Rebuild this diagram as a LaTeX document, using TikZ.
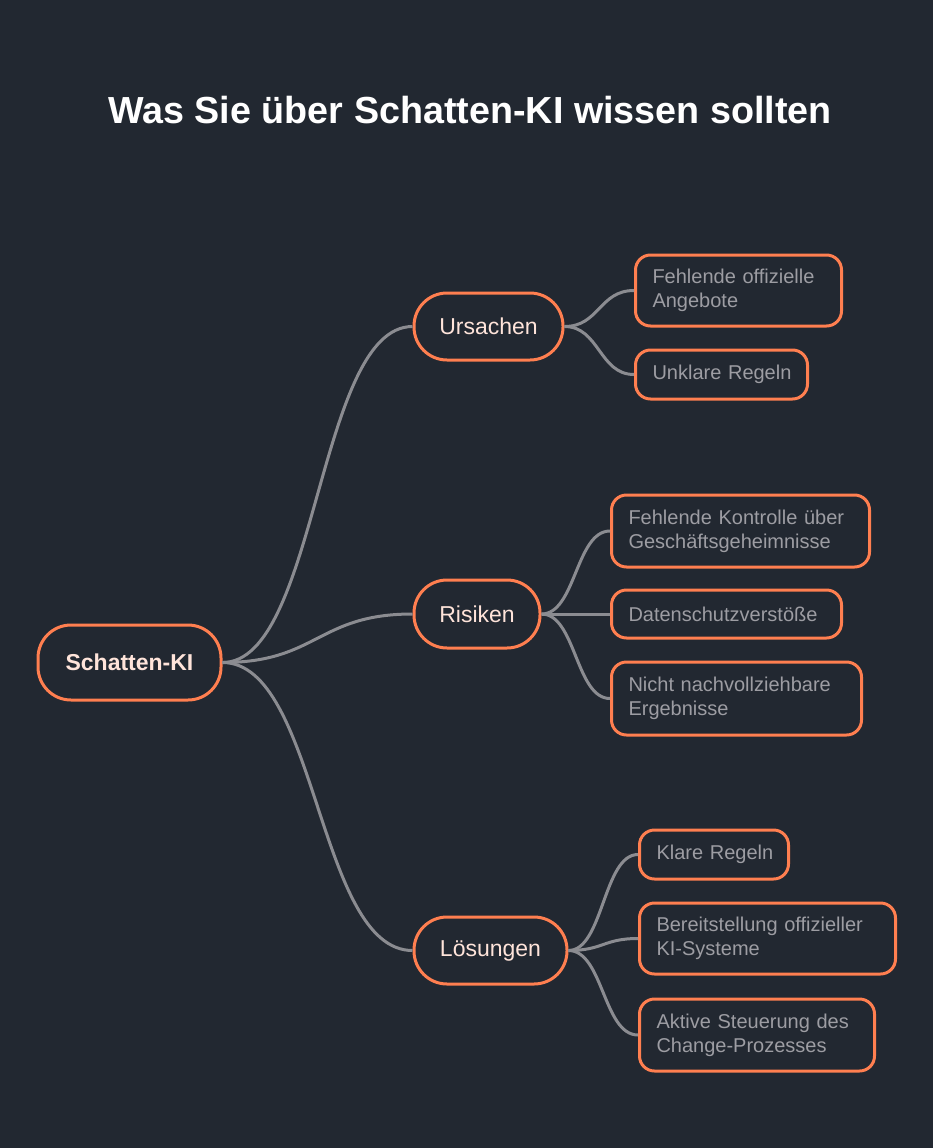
\documentclass[tikz,border=0pt]{standalone}
\usepackage{fontspec}
\setmainfont{Liberation Sans}
\usetikzlibrary{calc}

\definecolor{bgdark}{HTML}{222831}
\definecolor{coral}{HTML}{FF7F50}
\definecolor{linkgray}{HTML}{8B8C91}
\definecolor{leaftext}{HTML}{9D9DA3}
\definecolor{maintext}{HTML}{FFE4DA}

\tikzset{
    mainbox/.style={draw=coral, line width=3pt, fill=bgdark, text=maintext,
        rounded corners=33pt, inner sep=0pt, font=\fontsize{23}{27}\selectfont},
    leafbox/.style={draw=coral, line width=3pt, fill=bgdark, text=leaftext,
        rounded corners=15pt, inner xsep=17pt, inner ysep=0pt, anchor=west, align=left,
        font=\fontsize{20}{24}\selectfont},
    linkline/.style={draw=linkgray, line width=3pt},
}

\newcommand\branch[2]{%
    \path[linkline] let \p1=(#1.east), \p2=(#2.west) in
        (\p1) .. controls ({(\x1+\x2)/2},\y1) and ({(\x1+\x2)/2},\y2) .. (\p2);}

\begin{document}
\begin{tikzpicture}[x=1pt, y=-1pt]
        \fill[bgdark] (0,0) rectangle (933,1148);
        \useasboundingbox (0,0) rectangle (933,1148);

        % Title
        \node[text=white, font=\bfseries\fontsize{37.7}{42}\selectfont] (title) at (470,110) {Was Sie über Schatten-KI wissen sollten};

        % Root and main branches
        \node[mainbox, minimum width=183pt, minimum height=75pt, font=\bfseries\fontsize{23}{27}\selectfont] (root) at (129.5,662.5) {Schatten-KI};
        \node[mainbox, minimum width=149pt, minimum height=67pt] (ursachen) at (488.5,326.5) {Ursachen};
        \node[mainbox, minimum width=126pt, minimum height=68pt] (risiken) at (477,614) {Risiken};
        \node[mainbox, minimum width=153pt, minimum height=67pt] (loesungen) at (490.5,950.5) {Lösungen};

        % Ursachen
        \node[leafbox, text width=172pt, minimum height=71pt] (angebote) at (634,290.5) {Fehlende offizielle\\Angebote};
        \node[leafbox, text width=138pt, minimum height=49pt] (unklar) at (634,374.5) {Unklare~Regeln};

        % Risiken
        \node[leafbox, text width=224pt, minimum height=72pt] (kontrolle) at (610,531) {Fehlende Kontrolle über\\Geschäftsgeheimnisse};
        \node[leafbox, text width=196pt, minimum height=48pt] (datenschutz) at (610,614) {Datenschutzverstöße};
        \node[leafbox, text width=216pt, minimum height=73pt] (ergebnisse) at (610,698.5) {Nicht nachvollziehbare\\Ergebnisse};

        % Lösungen
        \node[leafbox, text width=115pt, minimum height=49pt] (klar) at (638,854.5) {Klare~Regeln};
        \node[leafbox, text width=222pt, minimum height=71pt] (systeme) at (638,938.5) {Bereitstellung offizieller\\KI-Systeme};
        \node[leafbox, text width=201pt, minimum height=72pt] (change) at (638,1035) {Aktive Steuerung des\\Change-Prozesses};

        % Connectors
        \foreach \a/\b in {root/ursachen, root/risiken, root/loesungen,
                ursachen/angebote, ursachen/unklar,
                risiken/kontrolle, risiken/datenschutz, risiken/ergebnisse,
                loesungen/klar, loesungen/systeme, loesungen/change}
            {\branch{\a}{\b}}

\end{tikzpicture}
\end{document}
